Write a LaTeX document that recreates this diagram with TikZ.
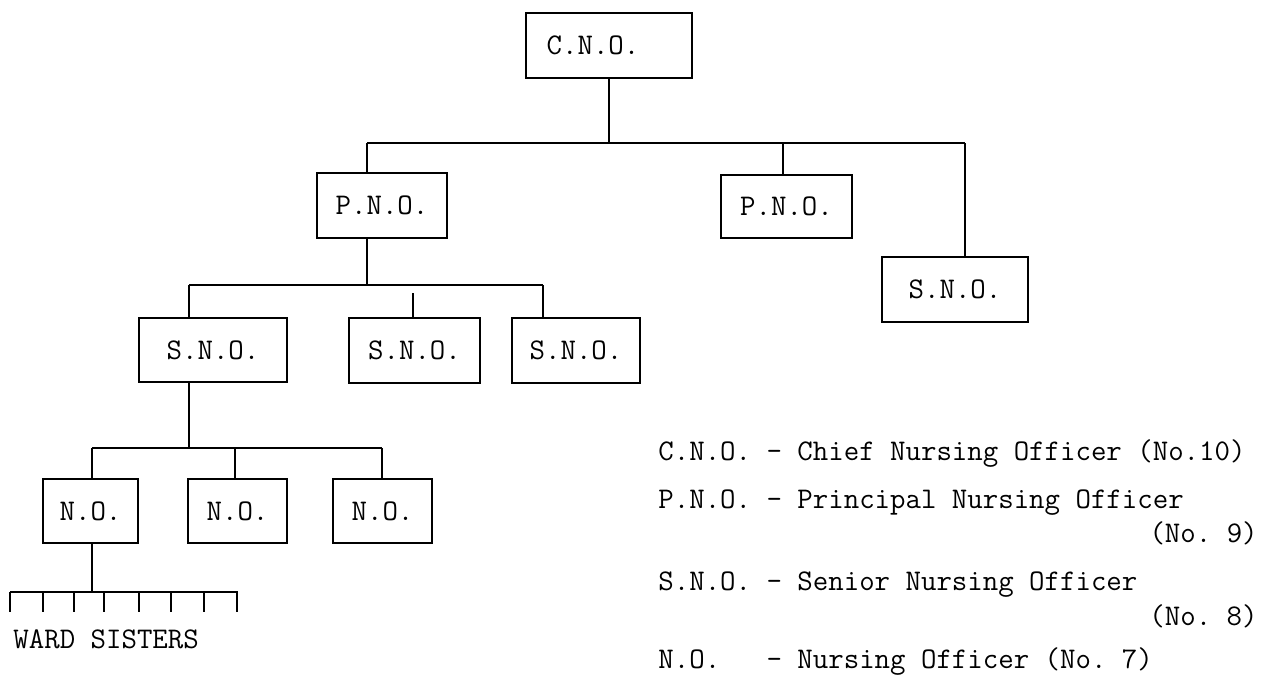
\documentclass[tikz,border=0pt]{standalone}
\usepackage{fontspec}
\usetikzlibrary{positioning,calc}

\begin{document}
\begin{tikzpicture}[x=0.5pt,y=-0.5pt]
\def\u{0.5pt}
\tikzstyle{tw}=[font=\fontsize{15}{18}\selectfont\ttfamily\frenchspacing]
\tikzstyle{bk}=[tw,draw,line width=1.1pt,inner sep=0pt,minimum height={64*\u}]
\tikzstyle{link}=[line width=0.9pt]
\tikzstyle{lg}=[tw,inner sep=0pt,anchor=base west]

\useasboundingbox (0,0) rectangle (1272,675);

% the boxes
\node[bk,minimum width={166*\u},minimum height={65*\u}] (cno) at (609,45.5) {C.N.O.\hspace*{16pt}};
\node[bk,minimum width={130*\u},minimum height={65*\u}] (pnoa) at (382,205.5) {P.N.O.};
\node[bk,minimum width={131*\u},minimum height={63*\u}] (pnob) at (786.5,206.5) {P.N.O.};
\node[bk,minimum width={146*\u},minimum height={65*\u}] (snor) at (955,289.5) {S.N.O.};
\node[bk,minimum width={148*\u}] (snoa) at (213,350) {S.N.O.};
\node[bk,minimum width={131*\u},minimum height={65*\u}] (snob) at (414.5,350.5) {S.N.O.};
\node[bk,minimum width={128*\u},minimum height={65*\u}] (snoc) at (576,350.5) {S.N.O.};
\node[bk,minimum width={95*\u}] (noa) at (90.5,511) {N.O.};
\node[bk,minimum width={99*\u}] (nob) at (237.5,511) {N.O.};
\node[bk,minimum width={99*\u}] (noc) at (382.5,511) {N.O.};

% junctions of the bars
\coordinate (bal) at (367,143);
\coordinate (bam) at (783,143);
\coordinate (bar) at (965,143);
\coordinate (bb)  at (367,285);
\coordinate (bbl) at (189,285);
\coordinate (bbm) at (413,285);
\coordinate (bbr) at (543,285);
\coordinate (bc)  at (189,448);
\coordinate (bcl) at (92,448);
\coordinate (bcm) at (235,448);
\coordinate (bcr) at (382,448);
\coordinate (comb)  at (92,592);
\coordinate (combl) at (10,592);
\coordinate (combr) at (238,592);

% connectors
\draw[link] (cno.south) -- (cno.south |- bal);
\draw[link] (bal) -- (bar);
\draw[link] (bal) -- (bal |- pnoa.north)
            (bam) -- (bam |- pnob.north)
            (bar) -- (bar |- snor.north);
\draw[link] (pnoa.south -| bb) -- (bb);
\draw[link] (bbl) -- (bbr);
\draw[link] (bbl) -- (bbl |- snoa.north)
            (bbr) -- (bbr |- snoc.north);
\draw[link,shorten <=8*\u] (bbm) -- (bbm |- snob.north);
\draw[link] (snoa.south -| bc) -- (bc);
\draw[link] (bcl) -- (bcr);
\draw[link] (bcl) -- (bcl |- noa.north)
            (bcm) -- (bcm |- nob.north)
            (bcr) -- (bcr |- noc.north);
\draw[link] (noa.south -| comb) -- (comb);
\draw[link,line width=1.2pt] (combl) -- (combr);
\foreach \t in {10,43,74,104,139,171,204,237}
  \draw[link] (\t,592) -- ++(0,20);
\node[lg] (ward) at (13,648) {WARD SISTERS};

% legend
\node[lg] (lga) at (658,460) {C.N.O. - Chief Nursing Officer (No.10)};
\node[lg] (lgb) at (658,508) {P.N.O. - Principal Nursing Officer};
\node[lg,anchor=base east] (lgc) at (1258,542) {(No. 9)};
\node[lg] (lgd) at (658,590) {S.N.O. - Senior Nursing Officer};
\node[lg,anchor=base east] (lge) at (1258,625) {(No. 8)};
\node[lg] (lgf) at (658,668) {N.O.\ \ \ - Nursing Officer (No. 7)};
\end{tikzpicture}
\end{document}
